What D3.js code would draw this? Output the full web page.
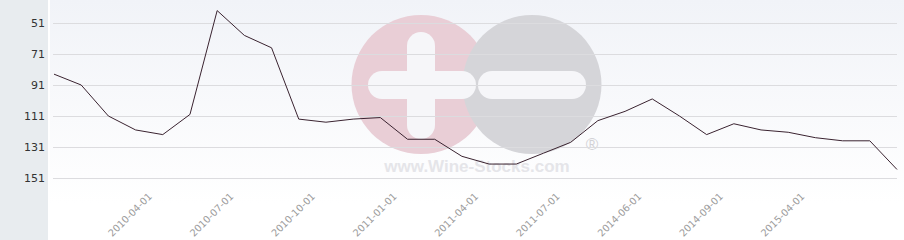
<!DOCTYPE html>
<html>
<head>
<meta charset="utf-8">
<script src="https://cdn.jsdelivr.net/npm/d3@7"></script>
<style>
  html, body { margin: 0; padding: 0; background: #fff; }
  svg { display: block; }
</style>
</head>
<body>
<div id="chart"></div>
<script>
'use strict';

var categories = [
  '2010-01-01', '2010-02-01', '2010-03-01', '2010-04-01', '2010-05-01', '2010-06-01',
  '2010-07-01', '2010-08-01', '2010-09-01', '2010-10-01', '2010-11-01', '2010-12-01',
  '2011-01-01', '2011-02-01', '2011-03-01', '2011-04-01', '2011-05-01', '2011-06-01',
  '2011-07-01', '2011-08-01', '2014-05-01', '2014-06-01', '2014-07-01', '2014-08-01',
  '2014-09-01', '2014-10-01', '2015-03-01', '2015-04-01', '2015-05-01', '2015-06-01',
  '2015-07-01', '2015-08-01'
];
var values = [
  84, 91, 111, 120, 123, 110,
  43, 59, 67, 113, 115, 113,
  112, 126, 126, 137, 142, 142,
  135, 128, 114, 108, 100, 111,
  123, 116, 120, 121.5, 125, 127,
  127, 145.5
];
var xTickLabels = [
  '2010-04-01', '2010-07-01', '2010-10-01', '2011-01-01', '2011-04-01',
  '2011-07-01', '2014-06-01', '2014-09-01', '2015-04-01'
];
var yTicks = [51, 71, 91, 111, 131, 151];

var width = 904, height = 240;
var svg = d3.select('#chart').append('svg')
  .attr('width', width)
  .attr('height', height);

// background
var defs = svg.append('defs');
var grad = defs.append('linearGradient')
  .attr('id', 'bg')
  .attr('x1', 0).attr('y1', 0).attr('x2', 0).attr('y2', 1);
grad.append('stop').attr('offset', '0%').attr('stop-color', '#f1f3f8');
grad.append('stop').attr('offset', '85%').attr('stop-color', '#ffffff');

svg.append('rect')
  .attr('width', width).attr('height', height)
  .attr('fill', '#fff');
svg.append('rect')
  .attr('x', 50).attr('width', width - 50).attr('height', height)
  .attr('fill', 'url(#bg)');
svg.append('rect')
  .attr('width', 48).attr('height', height)
  .attr('fill', '#e8ecef');

// watermark
var wm = svg.append('g');
wm.append('circle').attr('cx', 421).attr('cy', 84.5).attr('r', 69.5).attr('fill', '#e9ced6');
wm.append('circle').attr('cx', 532).attr('cy', 84.5).attr('r', 69.5).attr('fill', '#d5d5d9');
wm.append('rect').attr('x', 407).attr('y', 32).attr('width', 28).attr('height', 107)
  .attr('rx', 14).attr('fill', '#f6f6f9');
wm.append('rect').attr('x', 368).attr('y', 71).attr('width', 108).attr('height', 28)
  .attr('rx', 14).attr('fill', '#f6f6f9');
wm.append('rect').attr('x', 478).attr('y', 71).attr('width', 108).attr('height', 28)
  .attr('rx', 14).attr('fill', '#f6f6f9');
wm.append('text')
  .attr('x', 477).attr('y', 172)
  .attr('text-anchor', 'middle')
  .attr('font-family', 'Liberation Sans, Arial, sans-serif')
  .attr('font-weight', 'bold')
  .attr('font-size', '17px')
  .attr('fill', '#e5e5e9')
  .text('www.Wine-Stocks.com');
wm.append('text')
  .attr('x', 592).attr('y', 150)
  .attr('text-anchor', 'middle')
  .attr('font-family', 'Liberation Sans, Arial, sans-serif')
  .attr('font-size', '17px')
  .attr('fill', '#d2d2d6')
  .text('®');

var x = d3.scalePoint()
  .domain(categories)
  .range([54, 897]);

var y = d3.scaleLinear()
  .domain([51, 151])
  .range([23, 178]);

// grid
svg.append('g')
  .selectAll('line')
  .data(yTicks)
  .enter()
  .append('line')
  .attr('x1', 53)
  .attr('x2', 897)
  .attr('y1', function(d) { return Math.round(y(d)) + 0.5; })
  .attr('y2', function(d) { return Math.round(y(d)) + 0.5; })
  .attr('stroke', '#dcdcdf')
  .attr('stroke-width', 1);

// y labels
svg.append('g')
  .selectAll('text')
  .data(yTicks)
  .enter()
  .append('text')
  .attr('x', 45)
  .attr('y', function(d) { return y(d) + 4; })
  .attr('text-anchor', 'end')
  .attr('font-family', 'DejaVu Sans, sans-serif')
  .attr('font-size', '11px')
  .attr('fill', '#333')
  .text(function(d) { return d; });

// x labels
svg.append('g')
  .selectAll('text')
  .data(xTickLabels)
  .enter()
  .append('text')
  .attr('transform', function(d) { return 'translate(' + (x(d) + 17) + ',197) rotate(-45)'; })
  .attr('text-anchor', 'end')
  .attr('font-family', 'DejaVu Sans, sans-serif')
  .attr('font-size', '9.8px')
  .attr('fill', '#9c9c9c')
  .text(function(d) { return d; });

// series
var line = d3.line()
  .x(function(d, i) { return x(categories[i]); })
  .y(function(d) { return y(d); });

svg.append('path')
  .datum(values)
  .attr('d', line)
  .attr('fill', 'none')
  .attr('stroke', '#3a2330')
  .attr('stroke-width', 1);
</script>
</body>
</html>
